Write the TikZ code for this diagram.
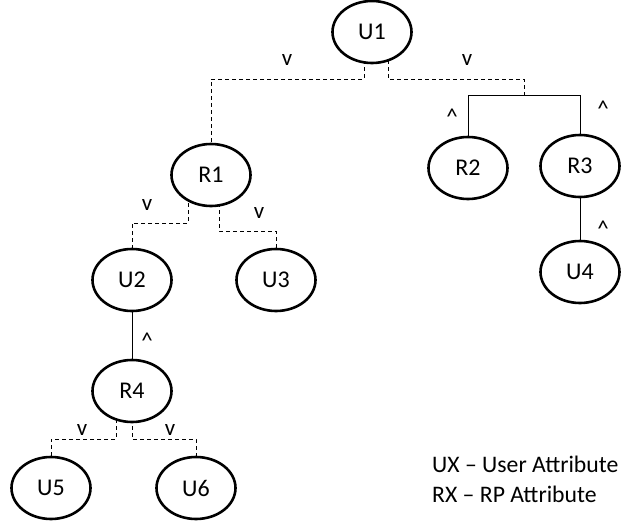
\documentclass[tikz,border=0pt]{standalone}
\usepackage{fontspec}
\setmainfont{Carlito}
\usetikzlibrary{shapes.geometric,backgrounds}
\tikzset{
  attr/.style={ellipse, draw=black, line width=2.6pt, fill=white, minimum width=79pt, minimum height=62pt, inner sep=0pt, font=\fontsize{24}{26}\selectfont},
  orlink/.style={draw=black, line width=0.9pt, dash pattern=on 4pt off 3pt},
  andlink/.style={draw=black, line width=0.9pt},
  lbl/.style={font=\fontsize{23}{25}\selectfont, inner sep=0pt},
  legend/.style={font=\fontsize{23.7}{26}\selectfont, inner sep=0pt, anchor=base west}
}
\begin{document}
\begin{tikzpicture}[x=1pt,y=-1pt]
\useasboundingbox (0,0) rectangle (622,525);
\node[attr] (U1) at (372,32) {U1};
\node[attr] (R1) at (211,175) {R1};
\node[attr] (U2) at (132,280) {U2};
\node[attr] (U3) at (276,280) {U3};
\node[attr] (R2) at (468,168) {R2};
\node[attr] (R3) at (580,166) {R3};
\node[attr] (U4) at (580,272) {U4};
\node[attr] (R4) at (132,391) {R4};
\node[attr] (U5) at (51,488) {U5};
\node[attr] (U6) at (196,488) {U6};
\coordinate (J) at (524,95);
\begin{scope}[on background layer]
\draw[orlink] ([xshift=-8]U1.center) -- ([xshift=-8]U1.center |- 0,79) -| (R1.north);
\draw[orlink] ([xshift=16]U1.center) -- ([xshift=16]U1.center |- 0,79) -| (J);
\draw[andlink] (R2.north) -- (R2.north |- J) -- (R3.north |- J) -- (R3.north);
\draw[andlink] (R3) -- (U4);
\draw[orlink] ([xshift=-23]R1.center) -- ([xshift=-23]R1.center |- 0,223) -| (U2.north);
\draw[orlink] ([xshift=8]R1.center) -- ([xshift=8]R1.center |- 0,231) -| (U3.north);
\draw[andlink] (U2) -- (R4);
\draw[orlink] ([xshift=-16]R4.center) -- ([xshift=-16]R4.center |- 0,439) -| (U5.north);
\draw[orlink] (R4.center) -- (R4.center |- 0,439) -| (U6.north);
\end{scope}
\node[lbl] (v1) at (287,60) {v};
\node[lbl] (v2) at (467,60) {v};
\node[lbl] (v3) at (147,205) {v};
\node[lbl] (v4) at (259,213) {v};
\node[lbl] (v5) at (82,430) {v};
\node[lbl] (v6) at (170,430) {v};
\node[lbl] (a1) at (452,117) {\textasciicircum};
\node[lbl] (a2) at (603,109) {\textasciicircum};
\node[lbl] (a3) at (603,229) {\textasciicircum};
\node[lbl] (a4) at (147,341) {\textasciicircum};
\node[legend] (legU) at (432,472) {UX – User Attribute};
\node[legend] (legR) at (432,502) {RX – RP Attribute};
\end{tikzpicture}
\end{document}
